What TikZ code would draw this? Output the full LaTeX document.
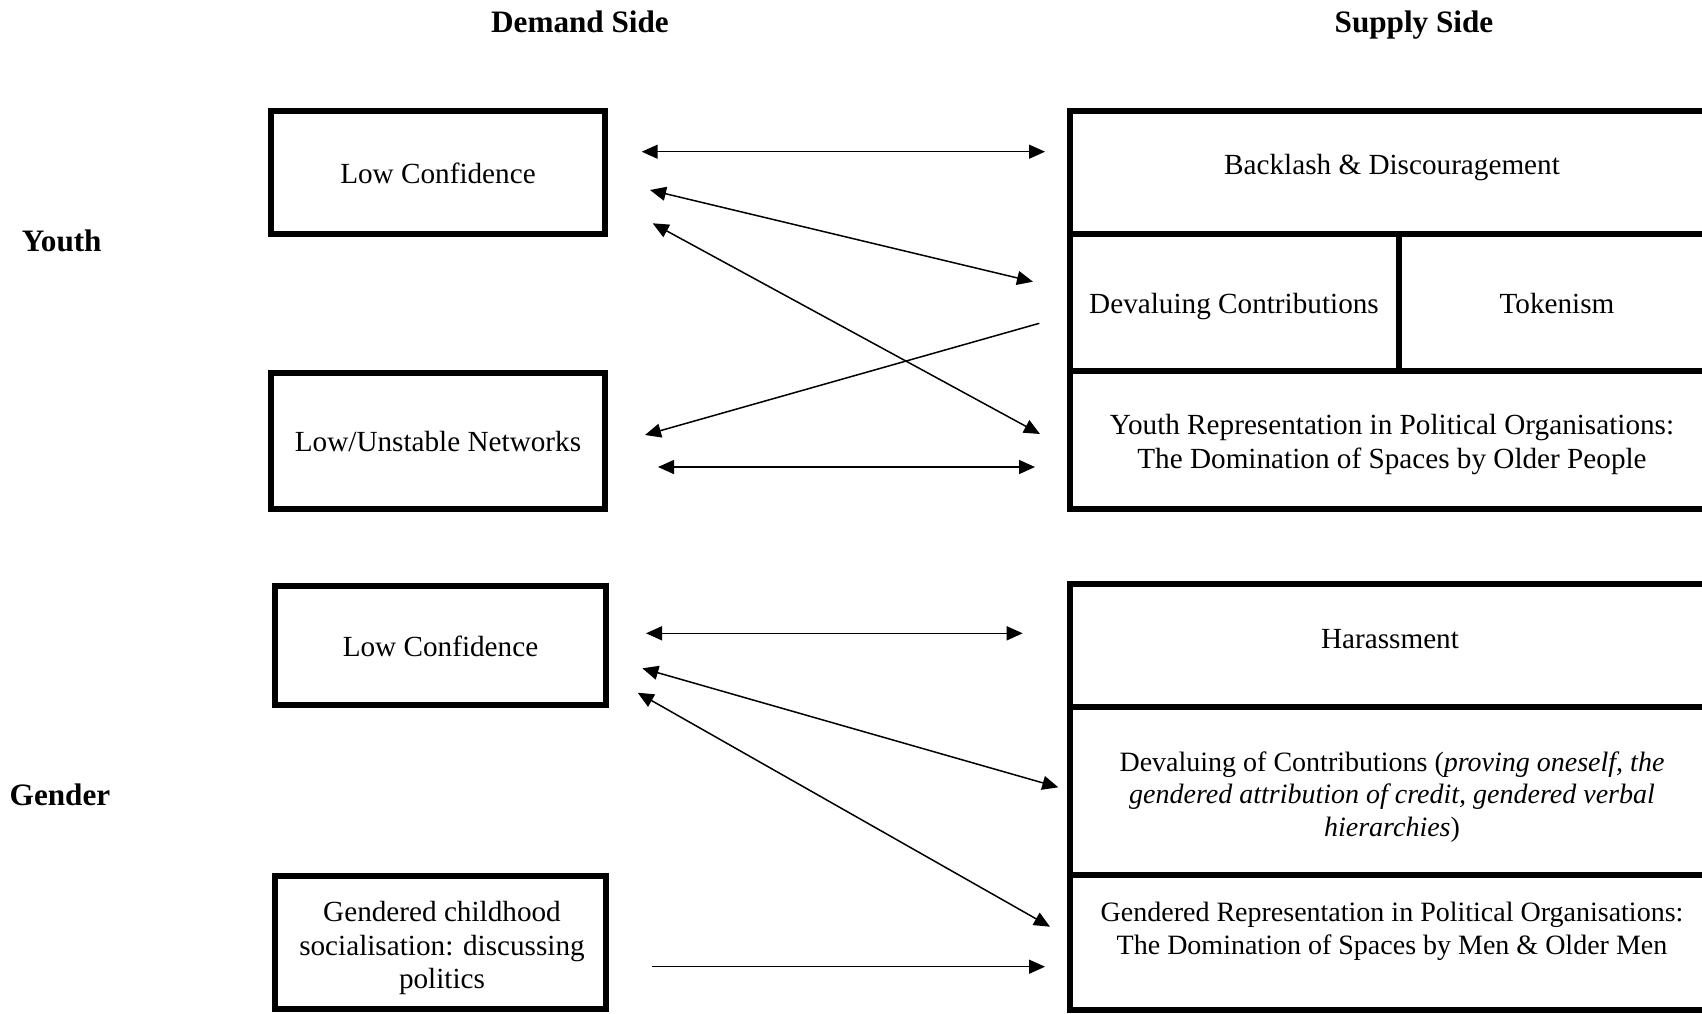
\documentclass[tikz,border=0pt]{standalone}
\usepackage{fontspec}
\setmainfont{Liberation Serif}
\usetikzlibrary{arrows.meta}
\begin{document}
\begin{tikzpicture}[x=0.5pt,y=-0.5pt,
  lbox/.style={draw, line width=3pt, rectangle, inner sep=0pt},
  rbox/.style={draw, line width=3pt, rectangle, inner sep=0pt},
  txt/.style={inner sep=0pt, font=\fontsize{14.6pt}{16.8pt}\selectfont, align=center},
  small/.style={font=\fontsize{14pt}{16.3pt}\selectfont},
  head/.style={inner sep=0pt, font=\fontsize{15.6pt}{18pt}\selectfont\bfseries},
  tip/.tip={Triangle[length=8pt,width=7pt]},
  both/.style={line width=0.75pt, tip-tip},
  one/.style={line width=0.75pt, -tip}]
\useasboundingbox (0,0) rectangle (1702,1013);
\clip (0,0) rectangle (1702,1013);
\fill[white] (0,0) rectangle (1702,1013);

% headings
\node[head, anchor=base] (hd) at (580,32) {Demand Side};
\node[head, anchor=base] (hs) at (1414,32) {Supply Side};
\node[head, anchor=base] (hy) at (61.7,251.7) {Youth};
\node[head, anchor=base] (hg) at (60,805) {Gender};

% left boxes
\node[lbox, minimum width=167pt, minimum height=61.5pt] (lc1) at (438,172.5) {};
\node[txt, anchor=base] (lc1t) at (438,183.3) {Low Confidence};
\node[lbox, minimum width=167pt, minimum height=67.85pt] (ln) at (438,440.85) {};
\node[txt, anchor=base] (lnt) at (438,451.7) {Low/Unstable Networks};
\node[lbox, minimum width=165.5pt, minimum height=59.5pt] (lc2) at (440.5,645.5) {};
\node[txt, anchor=base] (lc2t) at (440.5,656) {Low Confidence};
\node[lbox, minimum width=165.5pt, minimum height=66.5pt] (gc) at (440.5,942.5) {};
\node[txt] (gct) at (442,948) {Gendered childhood\\socialisation: discussing\\politics};

% right boxes, youth
\node[rbox, minimum width=323.25pt, minimum height=61.5pt] (bk) at (1392.75,172.5) {};
\node[txt, anchor=base] (bkt) at (1392,174) {Backlash \& Discouragement};
\node[rbox, minimum width=164.5pt, minimum height=68.5pt] (dc) at (1234,302.5) {};
\node[txt, anchor=base] (dct) at (1234,313) {Devaluing Contributions};
\node[rbox, minimum width=158.75pt, minimum height=68.5pt] (tk) at (1557.25,302.5) {};
\node[txt, anchor=base] (tkt) at (1557,313) {Tokenism};
\node[rbox, minimum width=323.25pt, minimum height=68.85pt] (yr) at (1392.75,439.85) {};
\node[txt] (yrt) at (1392,444.5) {Youth Representation in Political Organisations:\\The Domination of Spaces by Older People};

% right boxes, gender
\node[rbox, minimum width=323.25pt, minimum height=61.5pt] (hr) at (1392.75,645.5) {};
\node[txt, anchor=base] (hrt) at (1390,648.3) {Harassment};
\node[rbox, minimum width=323.25pt, minimum height=84pt] (dv) at (1392.75,791) {};
\node[txt, small] (dvt) at (1392,797) {Devaluing of Contributions (\textit{proving oneself, the}\\\textit{gendered attribution of credit, gendered verbal}\\\textit{hierarchies})};
\node[rbox, minimum width=323.25pt, minimum height=67.5pt] (gr) at (1392.75,942.5) {};
\node[txt, small] (grt) at (1392,931) {Gendered Representation in Political Organisations:\\The Domination of Spaces by Men \& Older Men};

% arrow end points
\coordinate (a1l) at (641.7,151.7);  \coordinate (a1r) at (1045,151.7);
\coordinate (a2l) at (650,190);      \coordinate (a2r) at (1033,281.7);
\coordinate (a3l) at (652.7,223.3);  \coordinate (a3r) at (1040,434);
\coordinate (a4r) at (1039.3,323.3); \coordinate (a4l) at (645,435);
\coordinate (a5l) at (658,467);      \coordinate (a5r) at (1035,467);
\coordinate (g1l) at (646,633.3);    \coordinate (g1r) at (1022.7,633.3);
\coordinate (g2l) at (642.3,668.3);  \coordinate (g2r) at (1058.3,787.3);
\coordinate (g3l) at (637.7,692.7);  \coordinate (g3r) at (1050,926.7);
\coordinate (g4l) at (651.7,966.7);  \coordinate (g4r) at (1045,966.7);

% arrows
\draw[both] (a1l) -- (a1r);
\draw[both] (a2l) -- (a2r);
\draw[both] (a3l) -- (a3r);
\draw[one]  (a4r) -- (a4l);
\draw[both] (a5l) -- (a5r);
\draw[both] (g1l) -- (g1r);
\draw[both] (g2l) -- (g2r);
\draw[both] (g3l) -- (g3r);
\draw[one]  (g4l) -- (g4r);
\end{tikzpicture}
\end{document}
